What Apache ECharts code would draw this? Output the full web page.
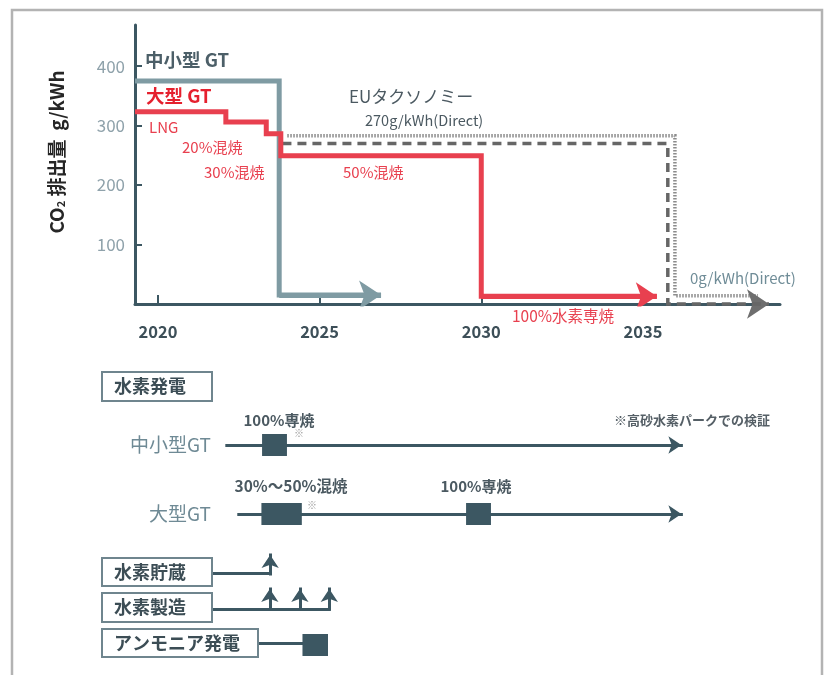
<!DOCTYPE html>
<html><head><meta charset="utf-8">
<script src="https://cdn.jsdelivr.net/npm/echarts@6/dist/echarts.min.js"></script>
<style>html,body{margin:0;padding:0;background:#fff}#c{width:827px;height:675px}</style>
</head><body><div id="c"></div>
<script>
// ---------- emission chart data ----------
const xTicks = [2020, 2025, 2030, 2035];
const yTicks = [100, 200, 300, 400];
const smallGTYears  = [2019.29, 2023.75, 2023.75, 2026.9];
const smallGTValues = [375, 375, 15, 15];
const largeGTYears  = [2019.29, 2022.1, 2022.1, 2023.35, 2023.35, 2023.8, 2023.8, 2030.0, 2030.0, 2035.43];
const largeGTValues = [323, 323, 306, 306, 286, 286, 249, 249, 13, 13];
const euDashYears  = [2023.85, 2035.77, 2035.77, 2038.9];
const euDashValues = [270, 270, 0, 0];
const euDotYears  = [2024.0, 2035.99, 2035.99, 2038.56];
const euDotValues = [283, 283, 14, 14];

// ---------- roadmap data ----------
const rowNames = ['中小型GT', '大型GT'];
const rowLevel = [445, 514];
const timelineStart = [2022.13, 2022.5];
const timelineEnd = [2036.19, 2036.19];
const stageLabels = ['100%専焼', '30%～50%混焼', '100%専焼'];
const stageRow = [0, 1, 1];
const stageStart = [2023.22, 2023.2, 2029.53];
const stageEnd = [2023.99, 2024.45, 2030.3];
const storageLevel = 573, productionLevel = 609, ammoniaLevel = 645;
const linkStart = 2021.67;
const storageArrowYears = [2023.47];
const productionArrowYears = [2023.46, 2024.39, 2025.3];
const ammoniaLinkStart = 2023.09;
const ammoniaYears = [2024.47, 2025.26];

const SLATE = '#3c5762', GRAYGT = '#7f9ba3', RED = '#e8404f';
const FONT = "'Noto Sans CJK JP', 'Noto Sans', sans-serif";

function pts(xs, ys) { return xs.map((x, i) => [x, ys[i]]); }
function lastSeg(xs, ys) { const n = xs.length; return [[xs[n-2], ys[n-2]], [xs[n-1], ys[n-1]]]; }

function T(text, x, y, o) {
  o = o || {};
  return { type: 'text', z: 100, x: x, y: y, rotation: o.rot || 0,
    style: { text: text, fill: o.color || '#4b5961', font: (o.weight || 'normal') + ' ' + (o.size || 14) + 'px ' + FONT,
      textAlign: o.align || 'left', textVerticalAlign: 'middle' } };
}
function box(text, x, y, w, h) {
  return [
    { type: 'rect', z: 90, shape: { x: x, y: y, width: w, height: h }, style: { fill: '#fff', stroke: '#6f858e', lineWidth: 2 } },
    T(text, x + 12, y + h / 2, { weight: 'bold', size: 18, color: '#3c4d55' })
  ];
}

const chart = echarts.init(document.getElementById('c'));

const stageData = stageLabels.map((s, i) => [stageStart[i], stageEnd[i], rowLevel[stageRow[i]]]);
stageData.push([ammoniaYears[0], ammoniaYears[1], ammoniaLevel]);

const arrowSegs = [];
timelineStart.forEach((s, i) => arrowSegs.push({ coords: [[s, rowLevel[i]], [timelineEnd[i], rowLevel[i]]] }));
storageArrowYears.forEach(x => arrowSegs.push({ coords: [[x, storageLevel + 1], [x, storageLevel - 18]] }));
productionArrowYears.forEach(x => arrowSegs.push({ coords: [[x, productionLevel], [x, productionLevel - 20]] }));
const plainSegs = [
  { coords: [[linkStart, storageLevel], [storageArrowYears[0], storageLevel]] },
  { coords: [[linkStart, productionLevel], [productionArrowYears[productionArrowYears.length - 1], productionLevel]] },
  { coords: [[ammoniaLinkStart, ammoniaLevel - 2], [ammoniaYears[0], ammoniaLevel - 2]] }
];

const option = {
  animation: false,
  backgroundColor: '#fff',
  grid: [
    { left: 135, top: 25, width: 645, height: 279 },
    { left: 135, top: 360, width: 645, height: 315 }
  ],
  xAxis: [
    { type: 'value', gridIndex: 0, min: 2019.29, max: 2039.24, splitLine: { show: false },
      axisLine: { lineStyle: { color: SLATE, width: 3 } },
      axisTick: { inside: true, length: 9, customValues: xTicks, lineStyle: { color: SLATE, width: 2 } },
      axisLabel: { customValues: xTicks, formatter: v => String(v), margin: 19, color: '#3d4f58', fontWeight: 'bold', fontSize: 16.5, fontFamily: FONT } },
    { type: 'value', gridIndex: 1, min: 2019.29, max: 2039.24, show: false }
  ],
  yAxis: [
    { type: 'value', gridIndex: 0, min: 0, max: 469, splitLine: { show: false },
      axisLine: { show: true, lineStyle: { color: SLATE, width: 3 } },
      axisTick: { show: true, inside: true, length: 7, customValues: yTicks, lineStyle: { color: SLATE, width: 2 } },
      axisLabel: { customValues: yTicks, margin: 10, color: '#8fa2ab', fontSize: 17, fontFamily: FONT } },
    { type: 'value', gridIndex: 1, min: 360, max: 675, inverse: true, show: false }
  ],
  series: [
    { name: '中小型 GT', type: 'line', xAxisIndex: 0, yAxisIndex: 0, data: pts(smallGTYears, smallGTValues), showSymbol: false, symbol: 'none', z: 3,
      lineStyle: { color: GRAYGT, width: 5, join: 'miter' } },
    { type: 'lines', coordinateSystem: 'cartesian2d', xAxisIndex: 0, yAxisIndex: 0, z: 3, symbol: ['none', 'arrow'], symbolSize: [19, 22],
      lineStyle: { color: GRAYGT, width: 5, opacity: 1 }, data: [{ coords: lastSeg(smallGTYears, smallGTValues) }] },
    { name: 'EU dotted', type: 'line', data: pts(euDotYears, euDotValues), showSymbol: false, symbol: 'none', z: 4, clip: false,
      lineStyle: { color: '#8c8c8c', width: 3.5, type: [1.5, 1.5], join: 'miter' } },
    { name: 'EUタクソノミー', type: 'line', data: pts(euDashYears, euDashValues), showSymbol: false, symbol: 'none', z: 5, clip: false,
      lineStyle: { color: '#666666', width: 3.5, type: [9, 6], join: 'miter' } },
    { type: 'lines', coordinateSystem: 'cartesian2d', z: 5, symbol: ['none', 'arrow'], symbolSize: [18, 22], clip: false,
      lineStyle: { color: '#6e6e6e', width: 0.1, opacity: 1 }, data: [{ coords: lastSeg(euDashYears, euDashValues) }] },
    { name: '大型 GT', type: 'line', data: pts(largeGTYears, largeGTValues), showSymbol: false, symbol: 'none', z: 6,
      lineStyle: { color: RED, width: 5, join: 'miter' } },
    { type: 'lines', coordinateSystem: 'cartesian2d', z: 6, symbol: ['none', 'arrow'], symbolSize: [19, 21],
      lineStyle: { color: RED, width: 5, opacity: 1 }, data: [{ coords: lastSeg(largeGTYears, largeGTValues) }] },

    // roadmap
    { type: 'lines', coordinateSystem: 'cartesian2d', xAxisIndex: 1, yAxisIndex: 1, z: 3, symbol: ['none', 'arrow'], symbolSize: [13, 13],
      lineStyle: { color: SLATE, width: 3, cap: 'square', opacity: 1 }, data: arrowSegs },
    { type: 'lines', coordinateSystem: 'cartesian2d', xAxisIndex: 1, yAxisIndex: 1, z: 3, symbol: 'none',
      lineStyle: { color: SLATE, width: 3, cap: 'square', opacity: 1 }, data: plainSegs },
    { type: 'custom', xAxisIndex: 1, yAxisIndex: 1, z: 4, data: stageData,
      renderItem: function (params, api) {
        const a = api.coord([api.value(0), api.value(2)]);
        const b = api.coord([api.value(1), api.value(2)]);
        return { type: 'rect', shape: { x: a[0], y: a[1] - 11, width: b[0] - a[0], height: 22 }, style: { fill: SLATE } };
      } }
  ],
  graphic: [
    { type: 'rect', z: 1, shape: { x: 12, y: 10, width: 810, height: 720 }, style: { fill: 'none', stroke: '#b3b3b3', lineWidth: 2.5 } },
    { type: 'text', z: 100, x: 57, y: 152, rotation: Math.PI / 2,
      style: { text: '{a|CO}{s|2}{a| 排出量  g/kWh}', textAlign: 'center', textVerticalAlign: 'middle',
        rich: { a: { font: 'bold 19px ' + FONT, fill: '#262626' }, s: { font: 'bold 11px ' + FONT, fill: '#262626', verticalAlign: 'bottom', padding: [7, 0, 0, 0] } } } },
    T('中小型 GT', 145, 60, { weight: 'bold', size: 18.5, color: '#4c5f68' }),
    T('大型 GT', 146, 96, { weight: 'bold', size: 18.5, color: '#e5202e' }),
    T('EUタクソノミー', 349, 97, { size: 17, color: '#4b5961' }),
    T('270g/kWh(Direct)', 365, 120, { size: 14.5, color: '#4b5961' }),
    T('LNG', 149, 127, { size: 15, color: RED }),
    T('20%混焼', 182, 147, { size: 15, color: RED }),
    T('30%混焼', 204, 172, { size: 15, color: RED }),
    T('50%混焼', 343, 172, { size: 15, color: RED }),
    T('100%水素専焼', 512, 316, { size: 15.5, color: RED }),
    T('0g/kWh(Direct)', 690, 278, { size: 15, color: '#6f8c97' }),

    ...box('水素発電', 102, 372, 110, 29),
    T(rowNames[0], 211, rowLevel[0], { size: 19, color: '#6f8a95', align: 'right' }),
    T(rowNames[1], 211, rowLevel[1], { size: 19, color: '#6f8a95', align: 'right' }),
    T(stageLabels[0], 279, 420, { weight: 'bold', size: 15, align: 'center' }),
    T('※', 294, 433, { size: 10, color: '#999' }),
    T(stageLabels[1], 291, 486, { weight: 'bold', size: 15.5, align: 'center' }),
    T('※', 307, 505, { size: 10, color: '#999' }),
    T(stageLabels[2], 476, 486, { weight: 'bold', size: 15, align: 'center' }),
    T('※高砂水素パークでの検証', 614, 420, { weight: 'bold', size: 13, color: '#555f66' }),
    ...box('水素貯蔵', 102, 558, 110, 28),
    ...box('水素製造', 102, 593, 110, 29),
    ...box('アンモニア発電', 102, 629, 156, 28)
  ]
};
chart.setOption(option);
</script></body></html>
